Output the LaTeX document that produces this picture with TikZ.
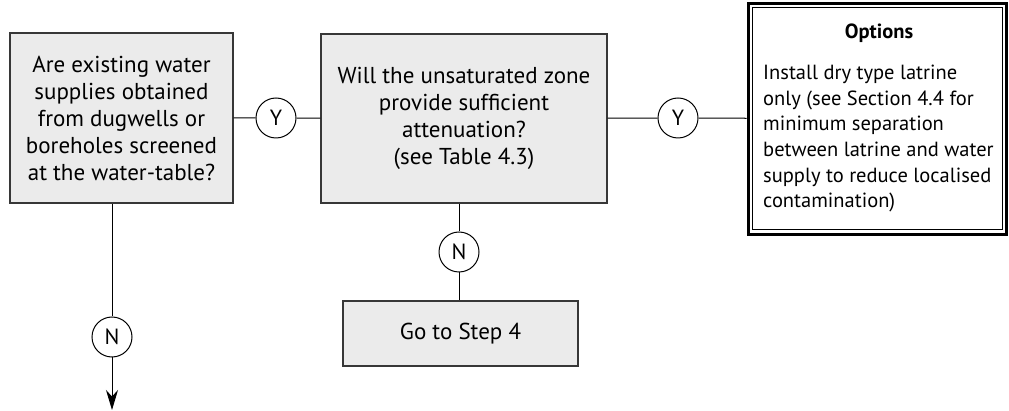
\documentclass[tikz,border=0pt]{standalone}
\usepackage{fontspec}
\setmainfont{PT Sans}
\usetikzlibrary{arrows.meta,positioning}
\definecolor{boxgrey}{RGB}{235,235,235}
\definecolor{edgegrey}{RGB}{55,55,55}

\begin{document}
\begin{tikzpicture}[x=1pt,y=-1pt,
  question/.style={draw=edgegrey,fill=boxgrey,line width=1.4pt,align=center,inner sep=0pt,font=\fontsize{23}{27}\selectfont},
  answer/.style={draw,circle,line width=1pt,minimum size=40pt,inner sep=0pt,font=\fontsize{22}{26}\selectfont},
  link/.style={line width=1pt},
  optiontext/.style={inner sep=0pt,align=left,font=\fontsize{20.5}{25.6}\selectfont}]
\useasboundingbox (0,0) rectangle (1009,411);

%existing supplies
\node[question,minimum width=223pt,minimum height=170pt] (q1) at (121.5,118) {Are existing water\\supplies obtained\\from dugwells or\\boreholes screened\\at the water-table?};
\node[answer] (y1) at (276,118) {Y};
\node[answer] (n1) at (112,337) {N};
\coordinate (down) at (112,410);

%unsaturated zone
\node[question,minimum width=286pt,minimum height=169pt] (q2) at (464,118.5) {Will the unsaturated zone\\provide sufficient\\attenuation?\\(see Table 4.3)};
\node[answer] (y2) at (678,118) {Y};
\node[answer] (n2) at (459,252) {N};
\node[question,minimum width=235pt,minimum height=65pt] (step4) at (460.5,333.5) {Go to Step 4};

%options
\node[draw,line width=3pt,minimum width=258pt,minimum height=231pt] (optframe) at (877,118.75) {};
\node[draw,line width=0.8pt,minimum width=250pt,minimum height=222pt] (opt) at (877,118.75) {};
\node[optiontext,font=\fontsize{20.5}{25.6}\selectfont\bfseries] (opttitle) at (879,33) {Options};
\node[optiontext,anchor=north west] (optbody) at (763,65) {Install dry type latrine\\only (see Section 4.4 for\\minimum separation\\between latrine and water\\supply to reduce localised\\contamination)};

%links
\draw[link] (q1) -- (y1) -- (q2);
\draw[link] (q2) -- (y2) -- (optframe);
\draw[link] (q2.south -| n2) -- (n2) -- (step4.north -| n2);
\draw[link] (q1.south -| n1) -- (n1);
\draw[link,-{Stealth[length=20pt,width=12pt]}] (n1) -- (down);
\end{tikzpicture}
\end{document}
